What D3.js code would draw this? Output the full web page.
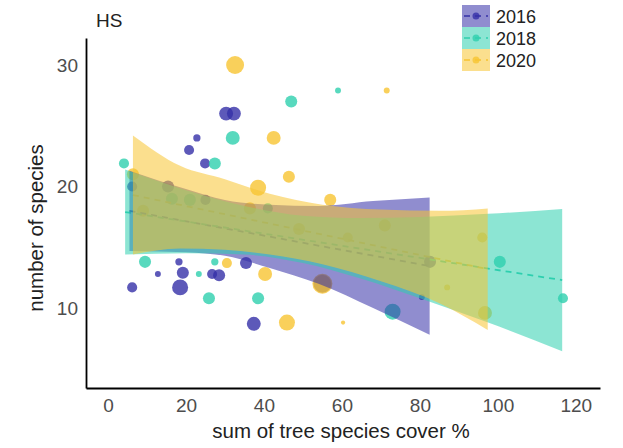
<!DOCTYPE html>
<html>
<head>
<meta charset="utf-8">
<script src="https://cdn.jsdelivr.net/npm/d3@7"></script>
<style>
  body { margin: 0; background: #fff; }
  svg text { font-family: "Liberation Sans", Arial, sans-serif; }
</style>
</head>
<body>
<svg id="chart" width="623" height="448"></svg>
<script>
// years and colours
var years = ['2016', '2018', '2020'];
var colors = ['#3530a8', '#2ecfae', '#f8c432'];

// points: [tree cover %, number of species, size]
var pts2016 = [[30.3, 26.0, 44], [32.3, 26.0, 44], [22.8, 24.0, 12], [20.8, 23.0, 23], [24.9, 21.9, 23],
  [6.2, 20.0, 23], [18.2, 13.8, 12], [12.8, 12.8, 8], [6.2, 11.7, 23], [19.2, 12.9, 33], [18.5, 11.7, 58],
  [26.7, 12.8, 23], [28.5, 12.7, 33], [35.4, 13.7, 33], [37.4, 8.7, 44], [55, 12.0, 73], [80.5, 10.9, 8],
  [82.6, 13.8, 33], [15.4, 20.0, 33], [25, 18.9, 23]];
var pts2018 = [[59, 27.9, 8], [47, 27.0, 33], [32, 24.0, 44], [27.4, 21.9, 33], [4.1, 21.9, 23],
  [9.5, 13.8, 33], [27.4, 13.8, 12], [23.3, 12.8, 8], [25.9, 10.8, 33], [38.5, 10.8, 33], [73, 9.7, 58],
  [100.5, 13.8, 33], [116.7, 10.8, 23], [16.4, 19.0, 33], [21, 18.9, 33], [41, 18.2, 23]];
var pts2020 = [[32.6, 30.0, 73], [42.5, 24.0, 44], [46.4, 20.8, 33], [38.5, 19.9, 58], [57, 18.9, 33],
  [71.5, 27.9, 8], [30.5, 13.7, 23], [40.3, 12.8, 44], [45.9, 8.8, 58], [60.3, 8.8, 4], [55, 12.0, 90],
  [96.7, 9.6, 44], [96, 15.8, 23], [87, 11.7, 8], [71, 16.8, 33], [61.5, 15.8, 23], [36.4, 18.2, 33],
  [6.4, 21.0, 33], [9, 18.0, 33], [49, 16.5, 33]];

// confidence bands: x, lower, upper
var band2016x = [5.5, 20, 30, 41.5, 54, 68, 82.5];
var band2016lo = [14.7, 14.6, 14.3, 13.3, 12.0, 10.0, 7.8];
var band2016hi = [21.3, 19.8, 18.9, 18.5, 18.4, 18.8, 19.1];
var band2018x = [4.4, 20, 35, 50, 65, 80, 97.5, 116.5];
var band2018lo = [14.4, 14.5, 14.4, 13.7, 12.4, 10.8, 8.8, 6.45];
var band2018hi = [21.4, 19.7, 18.4, 17.6, 17.4, 17.5, 17.75, 18.15];
var band2020x = [6.4, 18.5, 30, 41.5, 55, 70, 85, 97.4];
var band2020lo = [14.4, 14.9, 14.8, 14.4, 13.6, 12.2, 10.4, 8.2];
var band2020hi = [24.2, 21.7, 20.6, 19.4, 18.5, 18.1, 18.0, 18.2];

// fitted lines (start, end)
var fit2016 = [[5.5, 18.0], [82.5, 13.45]];
var fit2018 = [[4.4, 17.9], [116.5, 12.3]];
var fit2020 = [[6.4, 19.3], [97.4, 13.2]];

var xTicks = [0, 20, 40, 60, 80, 100, 120];
var yTicks = [10, 20, 30];

var svg = d3.select('#chart');

var x = d3.scaleLinear().domain([-5.64, 126.2]).range([86, 600]);
var y = d3.scaleLinear().domain([3.42, 32.22]).range([388, 38]);
var size = d3.scaleSqrt().domain([0, 100]).range([0, 10.5]);

var groups = [
  { pts: pts2016, bx: band2016x, lo: band2016lo, hi: band2016hi, fit: fit2016 },
  { pts: pts2018, bx: band2018x, lo: band2018lo, hi: band2018hi, fit: fit2018 },
  { pts: pts2020, bx: band2020x, lo: band2020lo, hi: band2020hi, fit: fit2020 }
];

// points first
groups.forEach(function(g, i) {
  svg.append('g').selectAll('circle')
    .data(g.pts)
    .enter().append('circle')
    .attr('cx', function(d) { return x(d[0]); })
    .attr('cy', function(d) { return y(d[1]); })
    .attr('r', function(d) { return size(d[2]); })
    .attr('fill', colors[i])
    .attr('fill-opacity', 0.8);
});

var area = d3.area()
  .x(function(d) { return x(d.x); })
  .y0(function(d) { return y(d.lo); })
  .y1(function(d) { return y(d.hi); })
  .curve(d3.curveMonotoneX);

var line = d3.line()
  .x(function(d) { return x(d[0]); })
  .y(function(d) { return y(d[1]); });

// dashed fits, then the ribbons over them
groups.forEach(function(g, i) {
  svg.append('path')
    .datum(g.fit)
    .attr('d', line)
    .attr('fill', 'none')
    .attr('stroke', colors[i])
    .attr('stroke-width', 1.8)
    .attr('stroke-dasharray', '6,5');
});

groups.forEach(function(g, i) {
  var rows = g.bx.map(function(bx, j) { return { x: bx, lo: g.lo[j], hi: g.hi[j] }; });
  svg.append('path')
    .datum(rows)
    .attr('d', area)
    .attr('fill', colors[i])
    .attr('fill-opacity', 0.55);
});

// axes
var xAxis = svg.append('g')
  .attr('transform', 'translate(0,388)')
  .call(d3.axisBottom(x).tickValues(xTicks).tickSize(0).tickPadding(11));
var yAxis = svg.append('g')
  .attr('transform', 'translate(86,0)')
  .call(d3.axisLeft(y).tickValues(yTicks).tickSize(0).tickPadding(8));

[xAxis, yAxis].forEach(function(a) {
  a.select('.domain').attr('stroke', '#000').attr('stroke-width', 1.8);
  a.selectAll('text').attr('font-size', 19).attr('fill', '#4d4d4d')
    .attr('font-family', '"Liberation Sans", Arial, sans-serif');
});

svg.append('text')
  .attr('x', 341).attr('y', 438)
  .attr('text-anchor', 'middle')
  .attr('font-size', 20.5).attr('fill', '#222')
  .text('sum of tree species cover %');

svg.append('text')
  .attr('transform', 'translate(43,228) rotate(-90)')
  .attr('text-anchor', 'middle')
  .attr('font-size', 20.5).attr('fill', '#222')
  .text('number of species');

svg.append('text')
  .attr('x', 96).attr('y', 27)
  .attr('font-size', 19).attr('fill', '#222')
  .text('HS');

// legend
var legend = svg.append('g').attr('transform', 'translate(462,5)');
years.forEach(function(yr, i) {
  var k = legend.append('g').attr('transform', 'translate(0,' + (i * 22) + ')');
  k.append('rect').attr('width', 28).attr('height', 22)
    .attr('fill', colors[i]).attr('fill-opacity', 0.55);
  k.append('line').attr('x1', 2).attr('x2', 26).attr('y1', 11).attr('y2', 11)
    .attr('stroke', colors[i]).attr('stroke-width', 1.6).attr('stroke-dasharray', '6,5');
  k.append('circle').attr('cx', 14).attr('cy', 11).attr('r', 3.5)
    .attr('fill', colors[i]).attr('fill-opacity', 0.8);
  k.append('text').attr('x', 34).attr('y', 17.5)
    .attr('font-size', 18).attr('fill', '#222')
    .text(yr);
});
</script>
</body>
</html>
